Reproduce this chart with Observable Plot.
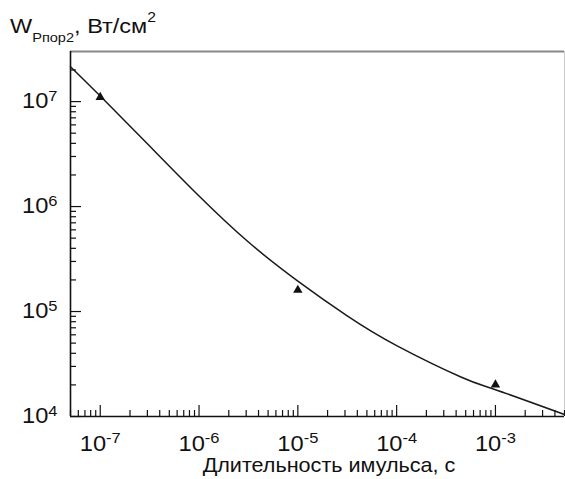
<!DOCTYPE html>
<html><head><meta charset="utf-8">
<script src="https://cdn.jsdelivr.net/npm/d3@7"></script>
<script src="https://cdn.jsdelivr.net/npm/@observablehq/plot@0.6"></script>
<style>body{margin:0;background:#fff} svg{display:block}</style>
</head><body><div id="chart"></div>
<script>
// Curve (log-log)
const curveX = [5e-8, 1e-7, 3.16e-7, 1e-6, 3.16e-6, 1e-5, 3.16e-5, 1e-4, 4.47e-4, 1e-3, 5e-3];
const curveY = [2.15e7, 1.13e7, 3.77e6, 1.26e6, 4.59e5, 1.95e5, 9.1e4, 4.74e4, 2.38e4, 1.8e4, 1.045e4];
// Measured points (triangles)
const pointX = [1e-7, 1e-5, 1e-3];
const pointY = [1.1e7, 1.6e5, 2.01e4];
// Axes
const xMajor = [1e-7, 1e-6, 1e-5, 1e-4, 1e-3];
const yMajor = [1e4, 1e5, 1e6, 1e7];
const xDomain = [5e-8, 5e-3];
const yDomain = [1e4, 3e7];
const xTitle = "Длительность имульса, с";
const yTitleMain = "W", yTitleSub = "Рпор2", yTitleRest = ", Вт/см", yTitleSup = "2";

const xMinor = [];
for (let e = -8; e <= -3; e++) for (let m = 2; m <= 9; m++) {
  const v = m * Math.pow(10, e);
  if (v >= xDomain[0] * 0.999 && v <= xDomain[1] * 1.001) xMinor.push(v);
}
const yMinor = [];
for (let e = 4; e <= 7; e++) for (let m = 2; m <= 9; m++) {
  const v = m * Math.pow(10, e);
  if (v < yDomain[1] * 0.999) yMinor.push(v);
}

const curve = curveX.map((x, i) => ({x, y: curveY[i]}));
const points = pointX.map((x, i) => ({x, y: pointY[i]}));
const fmt = d => "10^" + Math.round(Math.log10(d));
const font = "Liberation Sans, Arial, Helvetica, sans-serif";

const svg = Plot.plot({
  width: 565, height: 479,
  marginLeft: 70, marginRight: 1, marginTop: 51, marginBottom: 63,
  style: {fontFamily: font, background: "#fff", color: "#111"},
  x: {type: "log", domain: xDomain},
  y: {type: "log", domain: yDomain},
  marks: [
    Plot.ruleY([yDomain[1]], {stroke: "#888", strokeWidth: 2}),
    Plot.ruleX([xDomain[1]], {stroke: "#ccc", strokeWidth: 1}),
    Plot.axisX({ticks: xMinor, tickSize: -6, tickFormat: () => "", label: null, strokeWidth: 1.2}),
    Plot.axisX({ticks: xMajor, tickSize: -11, tickPadding: 30, tickFormat: fmt, label: null, strokeWidth: 1.2}),
    Plot.axisY({ticks: yMinor, tickSize: -6, tickFormat: () => "", label: null, strokeWidth: 1.2}),
    Plot.axisY({ticks: yMajor, tickSize: -11, tickPadding: 24, tickFormat: fmt, label: null, strokeWidth: 1.2}),
    Plot.ruleX([xDomain[0]], {stroke: "#111", strokeWidth: 1.6}),
    Plot.ruleY([yDomain[0]], {stroke: "#111", strokeWidth: 1.6}),
    Plot.line(curve, {x: "x", y: "y", curve: "natural", stroke: "#1a1a1a", strokeWidth: 1.5}),
    Plot.dot(points, {x: "x", y: "y", symbol: "triangle", r: 3.5, fill: "#111", stroke: "none"})
  ]
});

// superscript exponents in tick labels, slightly widened glyphs as in the reference
d3.select(svg).selectAll("text").each(function() {
  const t = this.textContent;
  if (!t.startsWith("10^")) return;
  const exp = t.slice(3);
  const sel = d3.select(this);
  sel.text(null).style("font-size", "21.5px");
  const tr = sel.attr("transform") || "";
  sel.attr("transform", tr + " scale(1.1,1)");
  sel.append("tspan").text("10");
  sel.append("tspan").style("font-size", "15px").attr("dy", "-0.5em").text(exp);
});

const s = d3.select(svg);
const yt = s.append("text").attr("transform", "translate(10,33) scale(1.12,1)").attr("text-anchor", "start")
  .style("font-family", font).attr("fill", "#111").style("font-size", "21px");
yt.append("tspan").text(yTitleMain);
yt.append("tspan").style("font-size", "13px").attr("dy", 9).text(yTitleSub);
yt.append("tspan").attr("dy", -9).text(yTitleRest);
yt.append("tspan").style("font-size", "14px").attr("dy", -11).text(yTitleSup);
s.append("text").attr("transform", "translate(329,472) scale(1.08,1)").attr("text-anchor", "middle").style("font-family", font)
  .attr("fill", "#111").style("font-size", "20px").text(xTitle);

document.getElementById("chart").appendChild(svg);
</script></body></html>
